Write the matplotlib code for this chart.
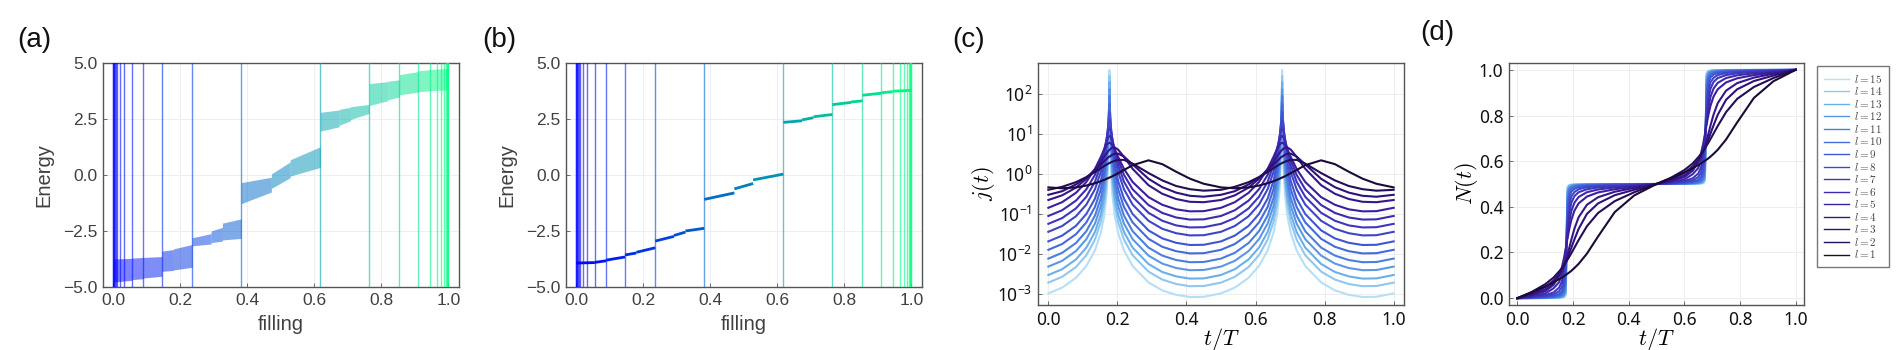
import numpy as np
import matplotlib
matplotlib.use("Agg")
import matplotlib.pyplot as plt
from matplotlib.colors import LinearSegmentedColormap
from matplotlib.lines import Line2D

plt.rcParams["mathtext.fontset"] = "cm"

# ---- (a)/(b): spectrum vs filling ----
# gap positions (filling) drawn as vertical lines
GAPS = [0.0, 0.001, 0.002, 0.003, 0.005, 0.008, 0.013, 0.021, 0.034, 0.056, 0.090,
        0.146, 0.236, 0.382, 0.618, 0.764, 0.854, 0.910, 0.944, 0.966, 0.979,
        0.987, 0.992, 0.995, 0.997, 0.999, 1.0]

# sub-band pieces: filling start / end
PIECE_F0 = [0.000, 0.056, 0.090, 0.146, 0.180, 0.236, 0.292, 0.326, 0.382, 0.472,
            0.528, 0.618, 0.674, 0.708, 0.764, 0.820, 0.854, 0.910, 0.944]
PIECE_F1 = [0.056, 0.090, 0.146, 0.180, 0.236, 0.292, 0.326, 0.382, 0.472, 0.528,
            0.618, 0.674, 0.708, 0.764, 0.820, 0.854, 0.910, 0.944, 1.000]
# (a) band edges at piece start / end
A_LO0 = [-4.78, -4.67, -4.60, -4.30, -4.24, -3.16, -3.02, -2.90, -1.28, -0.60,
         -0.05, 1.96, 2.22, 2.48, 3.10, 3.36, 3.58, 3.72, 3.77]
A_LO1 = [-4.70, -4.63, -4.52, -4.26, -4.12, -3.08, -2.95, -2.83, -0.76, -0.12,
         0.34, 2.15, 2.42, 2.75, 3.32, 3.48, 3.70, 3.76, 3.80]
A_HI0 = [-3.75, -3.71, -3.68, -3.40, -3.30, -2.80, -2.50, -2.15, -0.34, 0.05,
         0.68, 2.80, 2.93, 3.05, 4.08, 4.19, 4.48, 4.65, 4.71]
A_HI1 = [-3.72, -3.68, -3.64, -3.33, -3.10, -2.62, -2.34, -1.96, -0.10, 0.58,
         1.26, 2.90, 3.02, 3.15, 4.17, 4.25, 4.62, 4.70, 4.76]
# (b) single level at piece start / end
B_E0 = [-3.93, -3.90, -3.80, -3.57, -3.45, -2.95, -2.70, -2.50, -1.09, -0.62,
        -0.22, 2.35, 2.46, 2.60, 3.14, 3.26, 3.56, 3.67, 3.74]
B_E1 = [-3.91, -3.83, -3.66, -3.48, -3.25, -2.74, -2.55, -2.38, -0.80, -0.38,
        0.04, 2.42, 2.56, 2.70, 3.24, 3.31, 3.65, 3.72, 3.78]

# ---- (c): log10 j(t) over the first half period (second half repeats) ----
J_T = [0, 0.04, 0.08, 0.11, 0.135, 0.152, 0.162, 0.169, 0.174, 0.177, 0.18,
       0.185, 0.192, 0.202, 0.219, 0.244, 0.29, 0.33, 0.37, 0.41, 0.45, 0.5]
LOG_J = [
    [-0.335, -0.357, -0.335, -0.289, -0.23, -0.18, -0.146, -0.12, -0.10, -0.089, -0.077,
     -0.057, -0.026, 0.019, 0.10, 0.22, 0.342, 0.246, 0.057, -0.117, -0.244, -0.335],
    [-0.395, -0.32, -0.204, -0.077, 0.05, 0.145, 0.20, 0.238, 0.26, 0.275, 0.287,
     0.307, 0.33, 0.354, 0.353, 0.26, 0.024, -0.16, -0.30, -0.38, -0.417, -0.395],
    [-0.52, -0.43, -0.26, -0.09, 0.09, 0.24, 0.32, 0.38, 0.42, 0.435, 0.45,
     0.48, 0.505, 0.51, 0.435, 0.24, -0.12, -0.33, -0.465, -0.545, -0.568, -0.52],
    [-0.65, -0.533, -0.34, -0.12, 0.12, 0.31, 0.44, 0.52, 0.58, 0.60, 0.63,
     0.655, 0.665, 0.61, 0.43, 0.13, -0.28, -0.495, -0.625, -0.695, -0.705, -0.65],
    [-0.845, -0.704, -0.47, -0.20, 0.128, 0.429, 0.617, 0.727, 0.772, 0.78, 0.772,
     0.727, 0.617, 0.429, 0.128, -0.20, -0.578, -0.77, -0.883, -0.934, -0.929, -0.845],
    [-1.049, -0.906, -0.665, -0.382, -0.022, 0.349, 0.631, 0.834, 0.933, 0.952, 0.933,
     0.834, 0.631, 0.349, -0.022, -0.382, -0.776, -0.973, -1.087, -1.139, -1.134, -1.049],
    [-1.246, -1.102, -0.859, -0.57, -0.193, 0.221, 0.579, 0.903, 1.109, 1.155, 1.109,
     0.903, 0.579, 0.221, -0.193, -0.57, -0.97, -1.169, -1.285, -1.336, -1.33, -1.246],
    [-1.445, -1.30, -1.056, -0.765, -0.381, 0.052, 0.453, 0.878, 1.241, 1.346, 1.241,
     0.878, 0.453, 0.052, -0.381, -0.765, -1.17, -1.37, -1.48, -1.535, -1.53, -1.445],
    [-1.685, -1.54, -1.295, -1.0, -0.616, -0.174, 0.25, 0.744, 1.30, 1.55, 1.30,
     0.744, 0.25, -0.174, -0.616, -1.0, -1.41, -1.61, -1.72, -1.775, -1.77, -1.685],
    [-1.895, -1.75, -1.505, -1.21, -0.824, -0.38, 0.054, 0.58, 1.28, 1.75, 1.28,
     0.58, 0.054, -0.38, -0.824, -1.21, -1.62, -1.82, -1.93, -1.985, -1.98, -1.895],
    [-2.115, -1.97, -1.725, -1.43, -1.04, -0.60, -0.16, 0.38, 1.16, 1.95, 1.16,
     0.38, -0.16, -0.60, -1.04, -1.43, -1.84, -2.04, -2.15, -2.205, -2.20, -2.115],
    [-2.315, -2.17, -1.925, -1.63, -1.24, -0.80, -0.36, 0.18, 1.005, 2.12, 1.005,
     0.18, -0.36, -0.80, -1.24, -1.63, -2.04, -2.24, -2.35, -2.405, -2.40, -2.315],
    [-2.525, -2.38, -2.135, -1.84, -1.45, -1.01, -0.57, -0.02, 0.815, 2.3, 0.815,
     -0.02, -0.57, -1.01, -1.45, -1.84, -2.25, -2.45, -2.56, -2.615, -2.61, -2.525],
    [-2.715, -2.57, -2.325, -2.03, -1.64, -1.20, -0.76, -0.21, 0.63, 2.45, 0.63,
     -0.21, -0.76, -1.20, -1.64, -2.03, -2.44, -2.64, -2.75, -2.805, -2.80, -2.715],
    [-2.985, -2.84, -2.595, -2.30, -1.91, -1.47, -1.03, -0.48, 0.37, 2.6, 0.37,
     -0.48, -1.03, -1.47, -1.91, -2.30, -2.71, -2.91, -3.02, -3.075, -3.07, -2.985],
]

# ---- (d): N(t) over the first half period (second half = first + 0.5) ----
N_T = [0, 0.05, 0.1, 0.13, 0.15, 0.16, 0.168, 0.174, 0.177, 0.18, 0.186, 0.194,
       0.205, 0.22, 0.25, 0.29, 0.35, 0.42, 0.5]
N_HALF = [
    [0, 0.025, 0.051, 0.069, 0.083, 0.090, 0.097, 0.102, 0.104, 0.107, 0.112, 0.120, 0.132, 0.150, 0.195, 0.270, 0.377, 0.450, 0.5],
    [0, 0.026, 0.061, 0.090, 0.117, 0.132, 0.145, 0.156, 0.162, 0.168, 0.180, 0.197, 0.221, 0.254, 0.315, 0.373, 0.425, 0.464, 0.5],
    [0, 0.019, 0.048, 0.077, 0.106, 0.125, 0.144, 0.159, 0.168, 0.176, 0.195, 0.221, 0.257, 0.303, 0.369, 0.415, 0.451, 0.475, 0.5],
    [0, 0.014, 0.038, 0.064, 0.096, 0.119, 0.144, 0.166, 0.178, 0.191, 0.218, 0.256, 0.304, 0.354, 0.409, 0.442, 0.466, 0.483, 0.5],
    [0, 0.011, 0.030, 0.058, 0.098, 0.135, 0.178, 0.218, 0.239, 0.260, 0.300, 0.343, 0.383, 0.415, 0.445, 0.463, 0.477, 0.488, 0.5],
    [0, 0.007, 0.020, 0.043, 0.070, 0.104, 0.154, 0.210, 0.243, 0.276, 0.332, 0.382, 0.418, 0.443, 0.464, 0.476, 0.485, 0.492, 0.5],
    [0, 0.0044, 0.0127, 0.025, 0.046, 0.073, 0.121, 0.194, 0.246, 0.297, 0.371, 0.418, 0.447, 0.464, 0.477, 0.485, 0.491, 0.495, 0.5],
    [0, 0.0028, 0.0081, 0.016, 0.030, 0.049, 0.087, 0.170, 0.247, 0.324, 0.407, 0.446, 0.465, 0.477, 0.486, 0.491, 0.494, 0.497, 0.5],
    [0, 0.0017, 0.0049, 0.0096, 0.018, 0.030, 0.057, 0.134, 0.248, 0.362, 0.440, 0.467, 0.479, 0.486, 0.491, 0.494, 0.497, 0.498, 0.5],
    [0, 0.001, 0.003, 0.006, 0.011, 0.019, 0.036, 0.097, 0.249, 0.401, 0.462, 0.479, 0.487, 0.491, 0.495, 0.496, 0.498, 0.499, 0.5],
    [0, 0.0007, 0.0019, 0.0037, 0.0071, 0.0117, 0.0226, 0.0654, 0.249, 0.433, 0.476, 0.487, 0.492, 0.495, 0.497, 0.498, 0.499, 0.4994, 0.5],
    [0, 0.0004, 0.0012, 0.0024, 0.0046, 0.0077, 0.0148, 0.0443, 0.2496, 0.455, 0.484, 0.4915, 0.4947, 0.4964, 0.4978, 0.4986, 0.4991, 0.4996, 0.5],
    [0, 0.0003, 0.0008, 0.0015, 0.0029, 0.0048, 0.0094, 0.0286, 0.2497, 0.471, 0.490, 0.4946, 0.4966, 0.4977, 0.4986, 0.4991, 0.4994, 0.4998, 0.5],
    [0, 0.0002, 0.0005, 0.001, 0.002, 0.0033, 0.0063, 0.0196, 0.2498, 0.480, 0.4932, 0.4963, 0.4977, 0.4985, 0.4991, 0.4994, 0.4996, 0.4998, 0.5],
    [0, 0.0001, 0.0003, 0.0006, 0.0012, 0.002, 0.004, 0.012, 0.25, 0.488, 0.496, 0.498, 0.4985, 0.499, 0.4994, 0.4996, 0.4998, 0.4999, 0.5],
]
L_VALUES = list(range(1, 16))

winter = plt.get_cmap("winter")
lcmap = LinearSegmentedColormap.from_list(
    "lcol", ["#1b0b36", "#30107a", "#3b1f9e", "#3f35be", "#3f55d4", "#4a7ee0", "#6aaeea", "#b5dff7"])

W, H = 1896, 350
fig = plt.figure(figsize=(W / 100, H / 100), dpi=100)


def ax_at(left, top, right, bottom):
    return fig.add_axes([left / W, 1 - bottom / H, (right - left) / W, (bottom - top) / H])


def style(ax, tick_col, size, font):
    for s in ax.spines.values():
        s.set_color("#555555")
        s.set_linewidth(1.0)
    ax.grid(True, color="#ebebeb", lw=0.6)
    ax.set_axisbelow(True)
    ax.tick_params(direction="in", length=3, width=0.6, color="#555555",
                   labelcolor=tick_col, labelsize=size, pad=4)
    for lab in ax.get_xticklabels() + ax.get_yticklabels():
        lab.set_fontfamily(font)


def spectrum_axes(ax):
    ax.set_xlim(-0.03, 1.0315)
    ax.set_ylim(-5, 5)
    ax.set_xticks([0, 0.2, 0.4, 0.6, 0.8, 1.0])
    ax.set_xticklabels([f"{v:.1f}" for v in [0, 0.2, 0.4, 0.6, 0.8, 1.0]])
    yt = [-5, -2.5, 0, 2.5, 5]
    ax.set_yticks(yt)
    ax.set_yticklabels([f"{v:.1f}".replace("-", "\u2212") for v in yt])
    style(ax, "#404040", 12.5, "Liberation Sans")
    for f in GAPS:
        ax.axvline(f, color=winter(f), alpha=0.6, lw=1.0, zorder=3)
    ax.set_ylabel("Energy", fontsize=14.5, color="#404040", family="Liberation Sans")
    ax.set_xlabel("filling", fontsize=14.5, color="#404040", family="Liberation Sans")
    ax.yaxis.set_label_coords(-0.14, 0.5)
    ax.xaxis.set_label_coords(0.5, -0.125)


# (a)
axa = ax_at(103, 63, 459, 287)
for f0, f1, l0, l1, h0, h1 in zip(PIECE_F0, PIECE_F1, A_LO0, A_LO1, A_HI0, A_HI1):
    axa.fill_between([f0, f1], [l0, l1], [h0, h1], color=winter((f0 + f1) / 2),
                     alpha=0.5, lw=0, zorder=2)
spectrum_axes(axa)

# (b)
axb = ax_at(566, 63, 922, 287)
for f0, f1, e0, e1 in zip(PIECE_F0, PIECE_F1, B_E0, B_E1):
    axb.plot([f0, f1], [e0, e1], color=winter((f0 + f1) / 2), lw=2.0, zorder=4,
             solid_capstyle="butt")
spectrum_axes(axb)

# (c)
axc = ax_at(1038, 63, 1404, 305)
t_full = np.concatenate([J_T, np.array(J_T[1:]) + 0.5])
for i in reversed(range(len(L_VALUES))):
    y = np.power(10.0, LOG_J[i])
    axc.plot(t_full, np.concatenate([y, y[1:]]), color=lcmap(i / 14), lw=1.5)
axc.set_yscale("log")
axc.set_xlim(-0.03, 1.03)
axc.set_ylim(10 ** -3.275, 10 ** 2.775)
axc.set_yticks([1e-3, 1e-2, 1e-1, 1, 10, 100])
axc.yaxis.set_minor_locator(matplotlib.ticker.NullLocator())
axc.set_xticks([0, 0.2, 0.4, 0.6, 0.8, 1.0])
axc.set_xticklabels([f"{v:.1f}" for v in [0, 0.2, 0.4, 0.6, 0.8, 1.0]])
style(axc, "#111111", 12.5, "Noto Sans")
axc.set_ylabel("$j(t)$", fontsize=16)
axc.set_xlabel("$t/T$", fontsize=16)
axc.yaxis.set_label_coords(-0.112, 0.5)
axc.xaxis.set_label_coords(0.5, -0.085)

# (d)
axd = ax_at(1509, 63, 1804, 305)
nt_full = np.concatenate([N_T, np.array(N_T[1:]) + 0.5])
handles = []
for i in reversed(range(len(L_VALUES))):
    n = np.array(N_HALF[i])
    axd.plot(nt_full, np.concatenate([n, n[1:] + 0.5]), color=lcmap(i / 14), lw=1.5)
    handles.append(Line2D([], [], color=lcmap(i / 14), lw=1.0))
axd.set_xlim(-0.03, 1.03)
axd.set_ylim(-0.03, 1.03)
ticks = [0, 0.2, 0.4, 0.6, 0.8, 1.0]
axd.set_xticks(ticks)
axd.set_xticklabels([f"{v:.1f}" for v in ticks])
axd.set_yticks(ticks)
axd.set_yticklabels([f"{v:.1f}" for v in ticks])
style(axd, "#111111", 12.5, "Noto Sans")
axd.set_ylabel("$N(t)$", fontsize=16)
axd.set_xlabel("$t/T$", fontsize=16)
axd.yaxis.set_label_coords(-0.098, 0.5)
axd.xaxis.set_label_coords(0.5, -0.085)

leg = fig.legend(handles, [f"$l = {l}$" for l in reversed(L_VALUES)],
                 loc="upper left", bbox_to_anchor=(1817 / W, 1 - 66 / H),
                 frameon=True, fancybox=False, fontsize=8, handlelength=2.3,
                 handletextpad=0.4, labelspacing=0.05, borderpad=0.6,
                 borderaxespad=0)
leg.get_frame().set_edgecolor("#555555")
leg.get_frame().set_linewidth(1.0)
for txt in leg.get_texts():
    txt.set_color("#444444")

# panel letters
for lab, x, y in [("(a)", 17, 47), ("(b)", 482, 47), ("(c)", 952, 47), ("(d)", 1420, 40)]:
    fig.text(x / W, 1 - y / H, lab, fontsize=20, family="Liberation Sans",
             va="baseline", ha="left", color="#111111")

fig.savefig("out.png", dpi=100)
